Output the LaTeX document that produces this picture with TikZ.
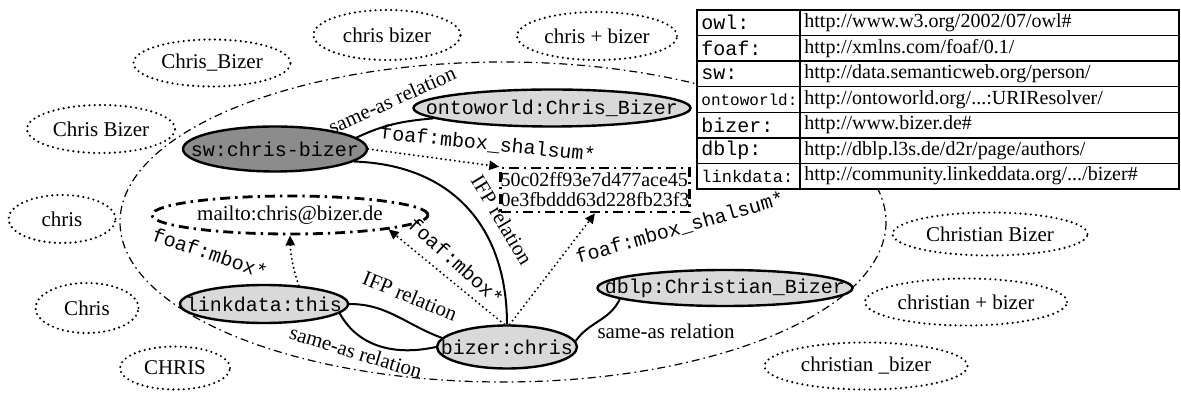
\documentclass[tikz,border=0pt]{standalone}
\usepackage{fontspec}
\setmainfont{Liberation Serif}
\setmonofont{Liberation Mono}
\usetikzlibrary{shapes.geometric, arrows.meta, positioning, calc}

\begin{document}
\begin{tikzpicture}[
  x=0.5pt, y=-0.5pt,
  >={Triangle[length=5pt, width=4.5pt]},
  spelling/.style={ellipse, draw, line width=1.2pt, dash pattern=on 0pt off 2.6pt, line cap=round, inner xsep=-10pt, inner ysep=0pt, font=\fontsize{10.5}{12}\selectfont},
  resource/.style={ellipse, draw, line width=1.2pt, fill=black!15, inner xsep=-20pt, inner ysep=0pt, font=\ttfamily},
  literal/.style={draw, line width=1.3pt, dash pattern=on 5pt off 2.5pt on 1.2pt off 2.5pt},
  rel/.style={line width=1pt},
  prop/.style={->, line width=1.1pt, dash pattern=on 0pt off 2.3pt, line cap=round},
  lbl/.style={inner sep=0pt, font=\fontsize{10.5}{12}\selectfont},
  plbl/.style={inner sep=0pt, font=\ttfamily},
  cell/.style={anchor=west, inner sep=0pt}
]
  \useasboundingbox (0,0) rectangle (1181,394);

  \draw[line width=0.6pt, dash pattern=on 4pt off 2pt on 0.8pt off 2pt] (503,222) ellipse [x radius=383, y radius=160];

  \node[spelling, minimum width=78.5pt, minimum height=23.5pt] (cb1) at (212,63) {Chris\_Bizer};
  \node[spelling, minimum width=74pt, minimum height=24pt] (cb2) at (101,129) {Chris Bizer};
  \node[spelling, minimum width=73.5pt, minimum height=25pt] (cb3) at (387,35) {chris bizer};
  \node[spelling, minimum width=80pt, minimum height=24pt] (cb4) at (597,36) {chris + bizer};
  \node[spelling, minimum width=53.5pt, minimum height=24pt] (c1) at (62,219) {chris};
  \node[spelling, minimum width=51.5pt, minimum height=25pt] (c2) at (87,308) {Chris};
  \node[spelling, minimum width=55pt, minimum height=21.5pt] (c3) at (175,368) {CHRIS};
  \node[spelling, minimum width=97.5pt, minimum height=21.5pt] (xb1) at (990,234) {Christian Bizer};
  \node[spelling, minimum width=101pt, minimum height=23.5pt] (xb2) at (966,302) {christian + bizer};
  \node[spelling, minimum width=101.5pt, minimum height=23.5pt] (xb3) at (866,366) {christian \_bizer};

  \node[resource, fill=black!45, minimum width=92pt, minimum height=22.5pt] (sw) at (275,149) {sw:chris-bizer};
  \node[resource, minimum width=138.5pt, minimum height=18.5pt] (onto) at (552,108) {ontoworld:Chris\_Bizer};
  \node[resource, minimum width=84pt, minimum height=19pt] (link) at (264,304) {linkdata:this};
  \node[resource, minimum width=70pt, minimum height=21.5pt] (bizer) at (507,347) {bizer:chris};
  \node[resource, minimum width=127.5pt, minimum height=18pt] (dblp) at (725,288) {dblp:Christian\_Bizer};
  \node[literal, ellipse, line width=1.4pt, inner xsep=-20pt, inner ysep=0pt, minimum width=138pt, minimum height=19pt, font=\fontsize{10.5}{12}\selectfont] (mail) at (290,215) {mailto:chris@bizer.de};
  \node[literal, minimum width=92pt, minimum height=22pt, inner sep=0pt, align=left, font=\fontsize{10}{10}\selectfont] (hash) at (595,190) {50c02ff93e7d477ace45\\0e3fbddd63d228fb23f3};

  \draw[rel] (sw.8) to[out=25, in=185] (onto.185);
  \draw[prop] (sw.east) -- (hash.north west);
  \draw[rel] (sw.-9) .. controls (455,165) and (507,230) .. (bizer.north);
  \draw[prop] (link.28) to[bend left=8] (mail.south);
  \draw[prop] (bizer.97) -- (mail.south east);
  \draw[prop] (bizer.83) -- (hash.south);
  \draw[rel] (link.east) to[out=0, in=160] (bizer.172);
  \draw[rel] (link.-7) .. controls (360,350) and (400,355) .. (bizer.west);
  \draw[rel] (bizer.5) to[out=55, in=-115] (dblp.186);

  \node[lbl, rotate=24] (l1) at (392,100) {same-as relation};
  \node[plbl, rotate=-6] (l2) at (488,144) {foaf:mbox\_shalsum*};
  \node[lbl, rotate=-59] (l3) at (502,220) {IFP relation};
  \node[plbl, rotate=-19] (l4) at (210,253) {foaf:mbox*};
  \node[plbl, rotate=-42] (l5) at (456,261) {foaf:mbox*};
  \node[plbl, rotate=16] (l6) at (680,228) {foaf:mbox\_shalsum*};
  \node[lbl, rotate=-22] (l7) at (410,296) {IFP relation};
  \node[lbl, rotate=-17] (l8) at (356,352) {same-as relation};
  \node[lbl] (l9) at (666,331) {same-as relation};

  \draw[line width=1.2pt, fill=white] (697,10) rectangle (1179,189);
  \draw[line width=0.7pt] (800,10) -- (800,189);
  \foreach \y in {35.6,61.1,86.7,112.3,137.9,163.4}
    \draw[line width=0.7pt] (697,\y) -- (1179,\y);

  \node[cell, font=\ttfamily] (p1) at (701,22.8) {owl:};
  \node[cell] (u1) at (804,22.8) {http://www.w3.org/2002/07/owl\#};
  \node[cell, font=\ttfamily] (p2) at (701,48.4) {foaf:};
  \node[cell] (u2) at (804,48.4) {http://xmlns.com/foaf/0.1/};
  \node[cell, font=\ttfamily] (p3) at (701,73.9) {sw:};
  \node[cell] (u3) at (804,73.9) {http://data.semanticweb.org/person/};
  \node[cell, font=\fontsize{8}{9}\ttfamily] (p4) at (701,99.5) {ontoworld:};
  \node[cell] (u4) at (804,99.5) {http://ontoworld.org/...:URIResolver/};
  \node[cell, font=\ttfamily] (p5) at (701,125.1) {bizer:};
  \node[cell] (u5) at (804,125.1) {http://www.bizer.de\#};
  \node[cell, font=\ttfamily] (p6) at (701,150.6) {dblp:};
  \node[cell] (u6) at (804,150.6) {http://dblp.l3s.de/d2r/page/authors/};
  \node[cell, font=\fontsize{8.5}{9}\ttfamily] (p7) at (701,176.2) {linkdata:};
  \node[cell] (u7) at (804,176.2) {http://community.linkeddata.org/.../bizer\#};
\end{tikzpicture}
\end{document}
